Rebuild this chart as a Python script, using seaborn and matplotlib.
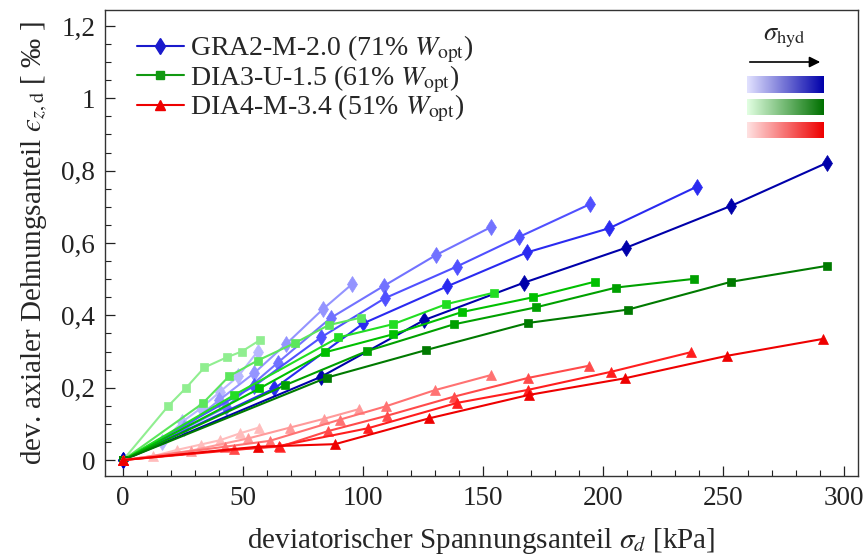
import numpy as np
import matplotlib
matplotlib.use("Agg")
import matplotlib.pyplot as plt
import seaborn as sns
from matplotlib.lines import Line2D
from matplotlib.colors import LinearSegmentedColormap
from matplotlib.ticker import MultipleLocator, FuncFormatter

# ---------------- data (sigma_d [kPa], eps_z,d [permille]) ----------------
# GRA2-M-2.0 (blue, diamonds), light -> dark = increasing sigma_hyd
b1_x = [0, 16.1, 24.7, 32.4, 40.4, 48.0, 56.0]
b1_y = [0, 0.049, 0.106, 0.143, 0.189, 0.232, 0.300]
b2_x = [0, 25.5, 40.1, 54.7, 67.8, 83.2, 95.3]
b2_y = [0, 0.088, 0.166, 0.241, 0.320, 0.417, 0.486]
b3_x = [0, 42.8, 64.4, 86.5, 108.5, 130.4, 153.2]
b3_y = [0, 0.146, 0.269, 0.393, 0.481, 0.567, 0.644]
b4_x = [0, 54.7, 82.4, 108.9, 139.0, 165.0, 194.6]
b4_y = [0, 0.205, 0.339, 0.447, 0.535, 0.617, 0.708]
b5_x = [0, 63.0, 100.1, 134.9, 168.2, 202.5, 239.0]
b5_y = [0, 0.198, 0.378, 0.480, 0.574, 0.641, 0.756]
b6_x = [0, 82.4, 125.4, 166.8, 209.5, 253.3, 293.2]
b6_y = [0, 0.230, 0.387, 0.490, 0.587, 0.703, 0.822]

# DIA3-U-1.5 (green, squares)
g1_x = [0, 18.9, 26.3, 33.9, 43.2, 49.4, 57.1]
g1_y = [0, 0.150, 0.200, 0.256, 0.284, 0.300, 0.332]
g2_x = [0, 33.2, 44.2, 56.0, 71.4, 85.6, 99.2]
g2_y = [0, 0.157, 0.232, 0.275, 0.323, 0.373, 0.394]
g3_x = [0, 46.3, 89.7, 112.6, 134.6, 154.6]
g3_y = [0, 0.180, 0.339, 0.376, 0.431, 0.463]
g4_x = [0, 56.8, 84.2, 112.6, 141.0, 170.7, 196.4]
g4_y = [0, 0.198, 0.298, 0.348, 0.409, 0.450, 0.493]
g5_x = [0, 67.5, 101.5, 137.6, 171.8, 205.4, 237.9]
g5_y = [0, 0.207, 0.301, 0.375, 0.422, 0.477, 0.501]
g6_x = [0, 84.9, 126.1, 168.6, 210.3, 253.3, 293.2]
g6_y = [0, 0.228, 0.304, 0.379, 0.416, 0.493, 0.537]

# DIA4-M-3.4 (red, triangles)
r1_x = [0, 12.6, 22.4, 32.4, 40.4, 48.75, 56.6]
r1_y = [0, 0.011, 0.028, 0.043, 0.055, 0.074, 0.090]
r2_x = [0, 28.3, 52.2, 69.6, 83.6, 98.3]
r2_y = [0, 0.026, 0.060, 0.090, 0.114, 0.141]
r3_x = [0, 42.5, 61.0, 90.4, 109.6, 129.7, 153.2]
r3_y = [0, 0.037, 0.053, 0.112, 0.149, 0.193, 0.235]
r4_x = [0, 46.0, 65.4, 85.3, 110.1, 137.6, 168.6, 194.2]
r4_y = [0, 0.030, 0.037, 0.080, 0.123, 0.175, 0.227, 0.261]
r5_x = [0, 65.0, 102.0, 139.0, 168.6, 203.2, 236.3]
r5_y = [0, 0.039, 0.088, 0.158, 0.194, 0.244, 0.298]
r6_x = [0, 56.1, 88.3, 127.2, 168.9, 208.9, 251.3, 291.5]
r6_y = [0, 0.037, 0.044, 0.115, 0.180, 0.226, 0.288, 0.335]

blue_cols = ["#b8b8ff", "#9494ff", "#7272ff", "#5050ff", "#2a2af0", "#0000aa"]
green_cols = ["#90ee90", "#5ce65c", "#22dd22", "#00c000", "#00a000", "#007a00"]
red_cols = ["#ffbcbc", "#ff9a9a", "#ff7272", "#ff4a4a", "#ff1e1e", "#ee0000"]

legend_labels = [r"GRA2-M-2.0 (71% $W_\mathrm{opt}$)",
                 r"DIA3-U-1.5 (61% $W_\mathrm{opt}$)",
                 r"DIA4-M-3.4 (51% $W_\mathrm{opt}$)"]

x_ticks = [0, 50, 100, 150, 200, 250, 300]
y_ticks = [0, 0.2, 0.4, 0.6, 0.8, 1.0, 1.2]

# ---------------- style ----------------
sns.set_style("ticks")
plt.rcParams["font.family"] = ["Liberation Serif", "DejaVu Serif"]
plt.rcParams["mathtext.fontset"] = "stix"

fig = plt.figure(figsize=(8.65, 5.59), dpi=100)
ax = fig.add_axes([105 / 865, 1 - 476 / 559, (858 - 105) / 865, (476 - 10) / 559])

groups = [
    ([(b1_x, b1_y), (b2_x, b2_y), (b3_x, b3_y), (b4_x, b4_y), (b5_x, b5_y), (b6_x, b6_y)], blue_cols, "d", 8),
    ([(g1_x, g1_y), (g2_x, g2_y), (g3_x, g3_y), (g4_x, g4_y), (g5_x, g5_y), (g6_x, g6_y)], green_cols, "s", 5.5),
    ([(r1_x, r1_y), (r2_x, r2_y), (r3_x, r3_y), (r4_x, r4_y), (r5_x, r5_y), (r6_x, r6_y)], red_cols, "^", 7),
]
for series, cols, mk, ms in groups:
    for (xs, ys), c in zip(series, cols):
        sns.lineplot(x=xs, y=ys, ax=ax, color=c, marker=mk, markersize=ms,
                     markeredgecolor=c, markeredgewidth=0.5, linewidth=1.5,
                     sort=False, estimator=None, legend=False)

ax.set_xlim(-7.5, 306)
ax.set_ylim(-0.044, 1.244)
ax.set_xticks(x_ticks)
ax.set_yticks(y_ticks)
ax.xaxis.set_minor_locator(MultipleLocator(10))
ax.yaxis.set_minor_locator(MultipleLocator(0.05))
fmt = FuncFormatter(lambda v, p: ("%g" % round(v, 3)).replace(".", ","))
ax.yaxis.set_major_formatter(fmt)
ax.tick_params(which="both", direction="in", top=False, right=False, labelsize=19.5, colors="#222222")
ax.tick_params(which="major", length=7, width=0.9, pad=7)
ax.tick_params(which="minor", length=4, width=0.8)
for s in ax.spines.values():
    s.set_visible(True)
    s.set_linewidth(1.0)
    s.set_color("#333333")

ax.set_xlabel(r"deviatorischer Spannungsanteil $\sigma_d$ [kPa]", fontsize=21, labelpad=11)
ax.set_ylabel("dev. axialer Dehnungsanteil $\u03f5_{z,\\mathrm{d}}$ [ \u2030 ]", fontsize=21, labelpad=8)

handles = [Line2D([], [], color="#1a1acc", marker="d", markersize=8, lw=1.5),
           Line2D([], [], color="#119911", marker="s", markersize=5.5, lw=1.5),
           Line2D([], [], color="#ee0000", marker="^", markersize=7, lw=1.5)]
ax.legend(handles, legend_labels, loc="upper left", bbox_to_anchor=(0.02, 0.985),
          frameon=False, fontsize=20, handlelength=1.7, handletextpad=0.2,
          labelspacing=-0.07, borderaxespad=0.2)

# sigma_hyd inset: arrow + colour ramps
fig.text(784 / 865, 1 - 38 / 559, r"$\sigma_\mathrm{hyd}$", ha="center", va="center", fontsize=19)
ax.annotate("", xy=(823 / 865, 1 - 62 / 559), xytext=(747 / 865, 1 - 62 / 559),
            xycoords="figure fraction", textcoords="figure fraction",
            arrowprops=dict(arrowstyle="-|>", color="black", lw=1.2, mutation_scale=16))
ramp = np.linspace(0, 1, 256)[None, :]
for (top, bot), (c0, c1) in zip([(76, 93), (99, 115), (122, 138)],
                                [("#e2e2ff", "#0000aa"), ("#e2ffe2", "#007000"), ("#ffe2e2", "#ee0000")]):
    cax = fig.add_axes([747 / 865, 1 - bot / 559, 77 / 865, (bot - top) / 559])
    cax.imshow(ramp, aspect="auto", cmap=LinearSegmentedColormap.from_list("r", [c0, c1]))
    cax.axis("off")

fig.savefig("out.png", dpi=100)
